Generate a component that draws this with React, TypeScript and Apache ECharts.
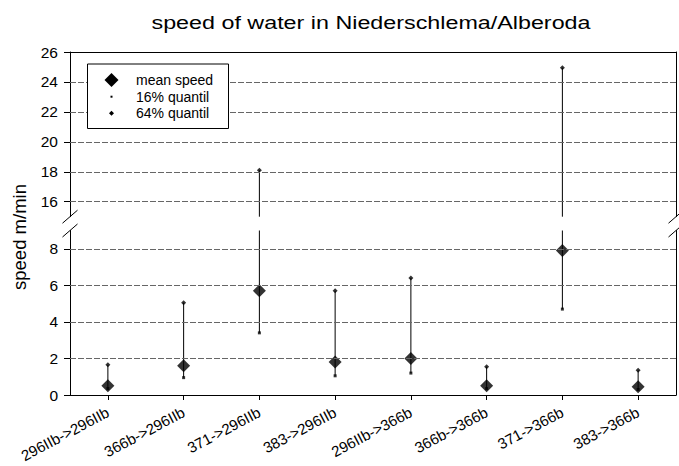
import React, { useEffect, useRef } from "react";
import * as echarts from "echarts";

const categories = [
  "296IIb->296IIb",
  "366b->296IIb",
  "371->296IIb",
  "383->296IIb",
  "296IIb->366b",
  "366b->366b",
  "371->366b",
  "383->366b",
];
const meanSpeed = [0.5, 1.6, 5.7, 1.8, 2.0, 0.5, 7.9, 0.45];
const quantil16 = [0.35, 0.95, 3.4, 1.05, 1.2, 0.35, 4.7, 0.3];
const quantil64 = [1.65, 5.05, 18.1, 5.7, 6.4, 1.55, 24.95, 1.35];

const lowerMin = 0;
const lowerMax = 9;
const upperMin = 15;
const upperMax = 26;
const lowerTicks = [0, 2, 4, 6, 8];
const lowerGridLines = [2, 4, 6, 8];
const upperTicks = [16, 18, 20, 22, 24, 26];
const upperGridLines = [16, 18, 20, 22, 24];

const NAME_MEAN = "mean speed";
const NAME_Q16 = "16% quantil";
const NAME_Q64 = "64% quantil";

const FONT = "Liberation Sans, Arial, sans-serif";
const GL = 70, GR = 676, UT = 52, UB = 216.7, LT = 230.5, LB = 395;

const gridLineStyle = { color: "#666", type: [6, 2], width: 1 };

function App() {
  const ref = useRef<HTMLDivElement>(null);
  useEffect(() => {
    const chart = echarts.init(ref.current!, null, { renderer: "svg" });

    const renderBar = (params: any, api: any) => {
      const x = api.value(0);
      const p1 = api.coord([x, api.value(1)]);
      const p2 = api.coord([x, api.value(2)]);
      return {
        type: "line",
        shape: { x1: p1[0], y1: p1[1], x2: p2[0], y2: p2[1] },
        style: { stroke: "#000", lineWidth: 1 },
      };
    };

    const lowerBars = categories.map((c, i) => [i, Math.max(quantil16[i], lowerMin), Math.min(quantil64[i], lowerMax)]);
    const upperBars = categories
      .map((c, i) => [i, Math.max(quantil16[i], upperMin), quantil64[i]])
      .filter((d) => d[2] > upperMin);

    const slash = (x: number, y: number) => ({
      type: "line",
      shape: { x1: x - 7.5, y1: y + 6.5, x2: x + 7.5, y2: y - 6.5 },
      style: { stroke: "#000", lineWidth: 1 },
      z: 100,
    });

    const diamond = (cx: number, cy: number, s: number) => ({
      type: "polygon",
      shape: { points: [[cx, cy - s / 2], [cx + s / 2, cy], [cx, cy + s / 2], [cx - s / 2, cy]] },
      style: { fill: "#000" },
      z: 60,
    });
    const legendText = (text: string, y: number) => ({
      type: "text",
      x: 136,
      y,
      style: { text, fontFamily: FONT, fontSize: 14, fill: "#000", textVerticalAlign: "middle" },
      z: 60,
    });

    chart.setOption({
      animation: false,
      backgroundColor: "#fff",
      grid: [
        { left: GL, right: 679 - GR, top: UT, height: UB - UT, containLabel: false, outerBoundsMode: "none" },
        { left: GL, right: 679 - GR, top: LT, height: LB - LT, containLabel: false, outerBoundsMode: "none" },
      ],
      xAxis: [
        {
          gridIndex: 0,
          type: "category",
          data: categories,
          position: "top",
          axisLine: { show: true, lineStyle: { color: "#000", width: 1 } },
          axisTick: { show: false },
          axisLabel: { show: false },
        },
        {
          gridIndex: 1,
          type: "category",
          data: categories,
          position: "bottom",
          axisLine: { show: true, lineStyle: { color: "#000", width: 1 } },
          axisTick: { show: true, alignWithLabel: true, length: 5, lineStyle: { color: "#000" } },
          axisLabel: {
            interval: 0,
            rotate: 28,
            margin: 16,
            fontFamily: FONT,
            fontSize: 15,
            color: "#000",
          },
        },
      ],
      yAxis: [
        {
          gridIndex: 0,
          type: "value",
          min: upperMin,
          max: upperMax,
          axisLine: { show: true, lineStyle: { color: "#000" } },
          axisTick: { show: true, length: 6, customValues: upperTicks, lineStyle: { color: "#000" } },
          axisLabel: { customValues: upperTicks, margin: 12, fontFamily: FONT, fontSize: 15.5, color: "#000" },
          splitLine: { show: false },
        },
        {
          gridIndex: 0,
          type: "value",
          position: "right",
          min: upperMin,
          max: upperMax,
          axisLine: { show: true, lineStyle: { color: "#000" } },
          axisTick: { show: false },
          axisLabel: { show: false },
          splitLine: { show: false },
        },
        {
          gridIndex: 1,
          type: "value",
          min: lowerMin,
          max: lowerMax,
          axisLine: { show: true, lineStyle: { color: "#000" } },
          axisTick: { show: true, length: 6, customValues: lowerTicks, lineStyle: { color: "#000" } },
          axisLabel: { customValues: lowerTicks, margin: 12, fontFamily: FONT, fontSize: 15.5, color: "#000" },
          splitLine: { show: false },
        },
        {
          gridIndex: 1,
          type: "value",
          position: "right",
          min: lowerMin,
          max: lowerMax,
          axisLine: { show: true, lineStyle: { color: "#000" } },
          axisTick: { show: false },
          axisLabel: { show: false },
          splitLine: { show: false },
        },
      ],
      series: [
        {
          type: "custom",
          name: "range lower",
          xAxisIndex: 1,
          yAxisIndex: 2,
          renderItem: renderBar,
          encode: { x: 0, y: [1, 2] },
          data: lowerBars,
          z: 2,
          markLine: {
            silent: true,
            symbol: "none",
            label: { show: false },
            lineStyle: gridLineStyle,
            data: lowerGridLines.map((v) => ({ yAxis: v })),
          },
        },
        {
          type: "custom",
          name: "range upper",
          xAxisIndex: 0,
          yAxisIndex: 0,
          renderItem: renderBar,
          encode: { x: 0, y: [1, 2] },
          data: upperBars,
          z: 2,
          markLine: {
            silent: true,
            symbol: "none",
            label: { show: false },
            lineStyle: gridLineStyle,
            data: upperGridLines.map((v) => ({ yAxis: v })),
          },
        },
        {
          type: "scatter",
          name: NAME_Q16,
          xAxisIndex: 1,
          yAxisIndex: 2,
          symbol: "rect",
          symbolSize: 3,
          itemStyle: { color: "#000" },
          data: quantil16.map((v, i) => (v <= lowerMax ? [i, v] : [i, "-"])),
          z: 3,
        },
        {
          type: "scatter",
          name: NAME_Q64,
          xAxisIndex: 1,
          yAxisIndex: 2,
          symbol: "diamond",
          symbolSize: 5,
          itemStyle: { color: "#000" },
          data: quantil64.map((v, i) => (v <= lowerMax ? [i, v] : [i, "-"])),
          z: 3,
        },
        {
          type: "scatter",
          name: NAME_Q64,
          xAxisIndex: 0,
          yAxisIndex: 0,
          symbol: "diamond",
          symbolSize: 5,
          itemStyle: { color: "#000" },
          data: quantil64.map((v, i) => (v >= upperMin ? [i, v] : [i, "-"])),
          z: 3,
        },
        {
          type: "scatter",
          name: NAME_MEAN,
          xAxisIndex: 1,
          yAxisIndex: 2,
          symbol: "diamond",
          symbolSize: 13,
          itemStyle: { color: "#000" },
          data: meanSpeed.map((v, i) => [i, v]),
          z: 4,
        },
      ],
      graphic: [
        {
          type: "text",
          x: 371,
          y: 22,
          scaleX: 1.26,
          style: {
            text: "speed of water in Niederschlema/Alberoda",
            fontFamily: FONT,
            fontSize: 18.5,
            fill: "#000",
            textAlign: "center",
            textVerticalAlign: "middle",
          },
        },
        {
          type: "rect",
          shape: { x: 87.5, y: 64, width: 141, height: 64.5 },
          style: { fill: "#fff", stroke: "#000", lineWidth: 1 },
          z: 50,
        },
        diamond(111.5, 80, 14),
        {
          type: "rect",
          shape: { x: 110.5, y: 95.7, width: 2, height: 2 },
          style: { fill: "#000" },
          z: 60,
        },
        diamond(111.5, 113.3, 5),
        legendText(NAME_MEAN, 80),
        legendText(NAME_Q16, 96.7),
        legendText(NAME_Q64, 113.3),
        {
          type: "text",
          x: 19,
          y: 237,
          rotation: Math.PI / 2,
          style: {
            text: "speed m/min",
            fontFamily: FONT,
            fontSize: 18.5,
            fill: "#000",
            textAlign: "center",
            textVerticalAlign: "middle",
          },
        },
        {
          type: "rect",
          shape: { x: GL - 8, y: UB + 1, width: 16, height: LT - UB - 2 },
          style: { fill: "#fff" },
          z: 90,
        },
        {
          type: "rect",
          shape: { x: GR - 8, y: UB + 1, width: 16, height: LT - UB - 2 },
          style: { fill: "#fff" },
          z: 90,
        },
        slash(GL, UB),
        slash(GL, LT),
        slash(GR, UB),
        slash(GR, LT),
      ],
    });
    return () => chart.dispose();
  }, []);
  return (
    <div
      ref={ref}
      style={{ position: "absolute", left: 0, top: 0, width: 679, height: 466 }}
    />
  );
}

export default App;
